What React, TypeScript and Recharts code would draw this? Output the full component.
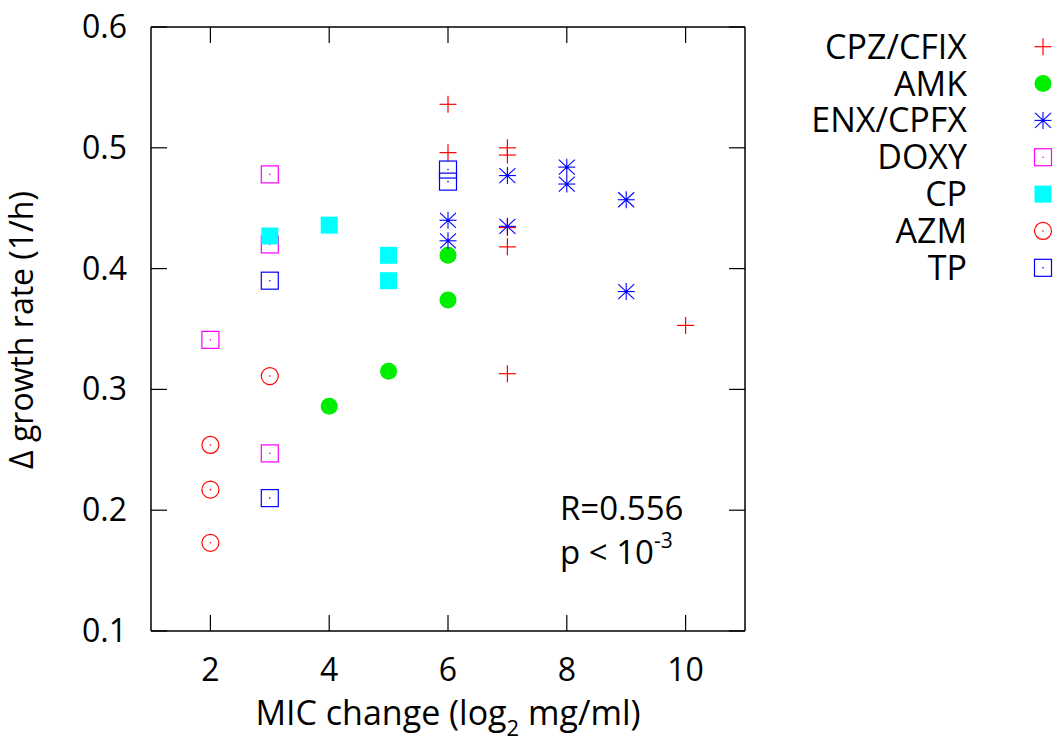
import React from "react";
import { ScatterChart, Scatter, XAxis, YAxis, Legend, ReferenceLine } from "recharts";

// MIC change (log2) vs delta growth rate, one list per drug class
const cpzCfix = [
  { x: 6, y: 0.536 },
  { x: 6, y: 0.496 },
  { x: 7, y: 0.5 },
  { x: 7, y: 0.494 },
  { x: 7, y: 0.434 },
  { x: 7, y: 0.418 },
  { x: 7, y: 0.313 },
  { x: 10, y: 0.353 },
];
const amk = [
  { x: 4, y: 0.286 },
  { x: 5, y: 0.315 },
  { x: 6, y: 0.411 },
  { x: 6, y: 0.374 },
];
const enxCpfx = [
  { x: 6, y: 0.44 },
  { x: 6, y: 0.423 },
  { x: 7, y: 0.477 },
  { x: 7, y: 0.435 },
  { x: 8, y: 0.484 },
  { x: 8, y: 0.47 },
  { x: 9, y: 0.457 },
  { x: 9, y: 0.381 },
];
const doxy = [
  { x: 2, y: 0.341 },
  { x: 3, y: 0.478 },
  { x: 3, y: 0.42 },
  { x: 3, y: 0.247 },
];
const cp = [
  { x: 3, y: 0.427 },
  { x: 4, y: 0.436 },
  { x: 5, y: 0.411 },
  { x: 5, y: 0.39 },
];
const azm = [
  { x: 2, y: 0.254 },
  { x: 2, y: 0.217 },
  { x: 2, y: 0.173 },
  { x: 3, y: 0.311 },
];
const tp = [
  { x: 3, y: 0.39 },
  { x: 3, y: 0.21 },
  { x: 6, y: 0.482 },
  { x: 6, y: 0.472 },
];

const xTicks = [2, 4, 6, 8, 10];
const yTicks = [0.1, 0.2, 0.3, 0.4, 0.5, 0.6];

const FONT = "'Open Sans', sans-serif";
const FS = 34;

// plot box (gnuplot style frame, ticks pointing inward on all four sides)
const LEFT = 151;
const RIGHT = 745;
const TOP = 27;
const BOTTOM = 631;
const TICK = 16;

// gnuplot-like point types
function Plus({ cx, cy }: any) {
  return (
    <g stroke="#ff0000" strokeWidth={1.2}>
      <line x1={cx - 8.5} y1={cy} x2={cx + 8.5} y2={cy} />
      <line x1={cx} y1={cy - 8.5} x2={cx} y2={cy + 8.5} />
    </g>
  );
}
function Dot({ cx, cy }: any) {
  return <circle cx={cx} cy={cy} r={8.5} fill="#00ee00" />;
}
function Star({ cx, cy }: any) {
  return (
    <g stroke="#0000ff" strokeWidth={1.1}>
      <line x1={cx - 8.5} y1={cy} x2={cx + 8.5} y2={cy} />
      <line x1={cx} y1={cy - 8.5} x2={cx} y2={cy + 8.5} />
      <line x1={cx - 8} y1={cy - 7.5} x2={cx + 8} y2={cy + 7.5} />
      <line x1={cx - 8} y1={cy + 7.5} x2={cx + 8} y2={cy - 7.5} />
      <circle cx={cx} cy={cy} r={1.6} fill="#0000ff" stroke="none" />
    </g>
  );
}
function OpenSquare(color: string) {
  return ({ cx, cy }: any) => (
    <g>
      <rect x={cx - 8.5} y={cy - 8.5} width={17} height={17} fill="none" stroke={color} strokeWidth={1.2} />
      <circle cx={cx} cy={cy} r={0.8} fill={color} />
    </g>
  );
}
function FilledSquare({ cx, cy }: any) {
  return <rect x={cx - 8.5} y={cy - 8.5} width={17} height={17} fill="#00ffff" />;
}
function OpenCircle({ cx, cy }: any) {
  return (
    <g>
      <circle cx={cx} cy={cy} r={8.5} fill="none" stroke="#ff0000" strokeWidth={1.2} />
      <circle cx={cx} cy={cy} r={0.8} fill="#ff0000" />
    </g>
  );
}

const DoxyShape = OpenSquare("#ff00ff");
const TpShape = OpenSquare("#0000ff");

const series = [
  { name: "CPZ/CFIX", data: cpzCfix, shape: Plus },
  { name: "AMK", data: amk, shape: Dot },
  { name: "ENX/CPFX", data: enxCpfx, shape: Star },
  { name: "DOXY", data: doxy, shape: DoxyShape },
  { name: "CP", data: cp, shape: FilledSquare },
  { name: "AZM", data: azm, shape: OpenCircle },
  { name: "TP", data: tp, shape: TpShape },
];

function KeyBox() {
  // legend placed at (790, 20) on the page
  return (
    <svg width={268} height={280} style={{ overflow: "visible" }}>
      {series.map((s, i) => {
        const mid = 26.7 + i * 36.85;
        const Shape = s.shape;
        return (
          <g key={s.name}>
            <text x={177} y={mid + 12} textAnchor="end" fontSize={FS} fontFamily={FONT} fill="#000">
              {s.name}
            </text>
            <Shape cx={253} cy={mid} />
          </g>
        );
      })}
    </svg>
  );
}

function XTick({ x, payload }: any) {
  return (
    <g>
      <line x1={x} x2={x} y1={BOTTOM} y2={BOTTOM - TICK} stroke="#000" strokeWidth={1.2} />
      <line x1={x} x2={x} y1={TOP} y2={TOP + TICK} stroke="#000" strokeWidth={1.2} />
      <text x={x} y={681} textAnchor="middle" fontSize={32} fontFamily={FONT} fill="#000">
        {payload.value}
      </text>
    </g>
  );
}

function YTick({ y, payload }: any) {
  return (
    <g>
      <line x1={LEFT} x2={LEFT + TICK} y1={y} y2={y} stroke="#000" strokeWidth={1.2} />
      <line x1={RIGHT} x2={RIGHT - TICK} y1={y} y2={y} stroke="#000" strokeWidth={1.2} />
      <text x={127} y={y + 11} textAnchor="end" fontSize={32} fontFamily={FONT} fill="#000">
        {Number(payload.value).toFixed(1)}
      </text>
    </g>
  );
}

const axisLine = { stroke: "#000", strokeWidth: 1.5 };

export default function App() {
  return (
    <div style={{ position: "absolute", left: 0, top: 0, width: 1058, height: 746, background: "#fff", fontFamily: FONT }}>
      <ScatterChart width={1058} height={746} margin={{ top: TOP, right: 1058 - RIGHT, bottom: 0, left: 0 }}>
        <XAxis
          dataKey="x"
          type="number"
          domain={[1, 11]}
          ticks={xTicks}
          allowDataOverflow
          height={746 - BOTTOM}
          tickLine={false}
          tick={<XTick />}
          axisLine={axisLine}
        />
        <YAxis
          dataKey="y"
          type="number"
          domain={[0.1, 0.6]}
          ticks={yTicks}
          allowDataOverflow
          width={LEFT}
          tickLine={false}
          tick={<YTick />}
          axisLine={axisLine}
        />
        <ReferenceLine y={0.6} stroke="#000" strokeWidth={1.5} ifOverflow="visible" />
        <ReferenceLine x={11} stroke="#000" strokeWidth={1.5} ifOverflow="visible" />
        {series.map((s) => (
          <Scatter key={s.name} name={s.name} data={s.data} shape={s.shape} isAnimationActive={false} />
        ))}
        <Legend
          layout="vertical"
          align="center"
          verticalAlign="middle"
          content={() => <KeyBox />}
          wrapperStyle={{ left: 790, top: 20, width: 268, height: 280 }}
        />
      </ScatterChart>
      <svg
        width={1058}
        height={746}
        style={{ position: "absolute", left: 0, top: 0, pointerEvents: "none" }}
        fontFamily={FONT}
      >
        <text x={33} y={330} transform="rotate(-90 33 330)" textAnchor="middle" fontSize={32} fill="#000">
          Δ growth rate (1/h)
        </text>
        <text x={448} y={725} textAnchor="middle" fontSize={FS} fill="#000">
          <tspan>MIC change (log</tspan>
          <tspan dy={11} fontSize={22}>2</tspan>
          <tspan dy={-11}> mg/ml)</tspan>
        </text>
        <text x={560} y={520} fontSize={33} fill="#000">
          R=0.556
        </text>
        <text x={560} y={564} fontSize={33} fill="#000">
          <tspan>p &lt; 10</tspan>
          <tspan dy={-16} fontSize={21}>-3</tspan>
        </text>
      </svg>
    </div>
  );
}
